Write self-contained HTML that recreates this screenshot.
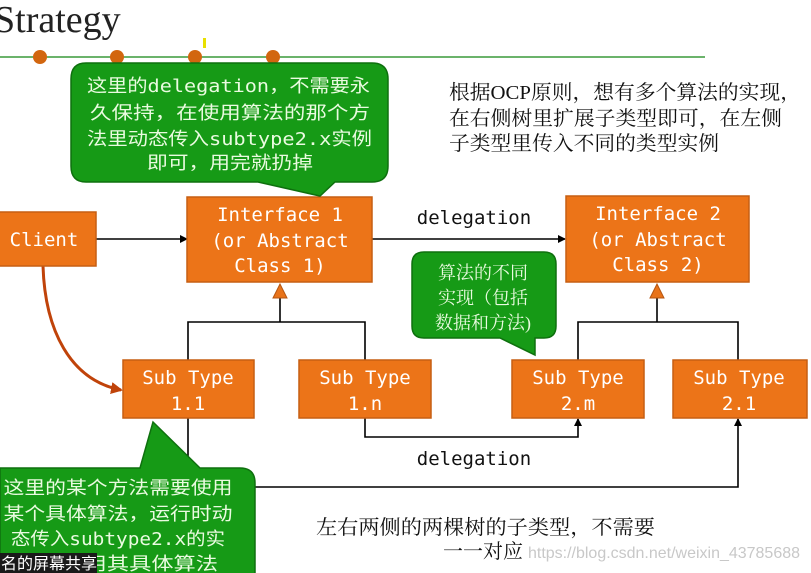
<!DOCTYPE html>
<html><head><meta charset="utf-8"><style>
html,body{margin:0;padding:0;background:#fff;width:811px;height:573px;overflow:hidden}
svg{font-family:"DejaVu Sans Mono","Liberation Mono","Noto Sans CJK SC",monospace}
.serif{font-family:"Liberation Serif","Noto Serif CJK SC",serif}
.sans{font-family:"Noto Sans CJK SC",sans-serif}
.mono{font-family:"DejaVu Sans Mono","Noto Sans CJK SC",monospace}
.lib{font-family:"Liberation Sans",sans-serif}
</style></head><body>
<svg width="811" height="573" viewBox="0 0 811 573" xmlns="http://www.w3.org/2000/svg">
<defs>
<marker id="ah" markerWidth="8" markerHeight="8" refX="7" refY="4" orient="auto" markerUnits="userSpaceOnUse"><path d="M0,0 L8,4 L0,8 z" fill="#000"/></marker>
<marker id="ar" markerWidth="12" markerHeight="12" refX="10" refY="6" orient="auto" markerUnits="userSpaceOnUse"><path d="M0,0 L12,6 L0,12 z" fill="#c0430a"/></marker>
</defs>
<text x="-6" y="32" class="serif" font-size="38" fill="#222">Strategy</text>
<line x1="0" y1="57" x2="705" y2="57" stroke="#3a9a3a" stroke-width="1.5"/>
<rect x="203" y="38" width="3" height="10" fill="#e8e000"/>
<g fill="#d2660f"><circle cx="40" cy="57" r="7"/><circle cx="117" cy="57" r="7"/><circle cx="195" cy="57" r="7"/><circle cx="273" cy="57" r="7"/></g>

<g stroke="#000" stroke-width="1.6" fill="none">
<line x1="96" y1="239" x2="187" y2="239" marker-end="url(#ah)"/>
<line x1="372" y1="239" x2="565" y2="239" marker-end="url(#ah)"/>
<polyline points="188,360 188,322 365,322 365,360"/>
<line x1="280" y1="322" x2="280" y2="298"/>
<polyline points="578,360 578,322 738,322 738,360"/>
<line x1="657" y1="322" x2="657" y2="298"/>
<polyline points="365,418 365,437 578,437 578,419" marker-end="url(#ah)"/>
<polyline points="188,418 188,487 738,487 738,419" marker-end="url(#ah)"/>
</g>
<path d="M273,298 L280,284 L287,298 Z" fill="#e8731a" stroke="#b55510"/>
<path d="M650,298 L657,284 L664,298 Z" fill="#e8731a" stroke="#b55510"/>
<path d="M43,266 C45,330 70,380 121,390" stroke="#c0430a" stroke-width="3" fill="none" marker-end="url(#ar)"/>

<g fill="#ec7418" stroke="#c65e12" stroke-width="1.5">
<rect x="-2" y="212" width="98" height="54"/>
<rect x="187" y="197" width="185" height="85"/>
<rect x="566" y="196" width="183" height="86"/>
<rect x="123" y="360" width="131" height="58"/>
<rect x="299" y="360" width="132" height="58"/>
<rect x="512" y="360" width="132" height="58"/>
<rect x="673" y="360" width="134" height="58"/>
</g>
<g fill="#fff" font-size="19" text-anchor="middle">
<text x="44" y="246">Client</text>
<text x="280" y="221">Interface 1</text>
<text x="280" y="247">(or Abstract</text>
<text x="280" y="272">Class 1)</text>
<text x="658" y="220">Interface 2</text>
<text x="658" y="246">(or Abstract</text>
<text x="658" y="271">Class 2)</text>
<text x="188" y="384">Sub Type</text><text x="188" y="410">1.1</text>
<text x="365" y="384">Sub Type</text><text x="365" y="410">1.n</text>
<text x="578" y="384">Sub Type</text><text x="578" y="410">2.m</text>
<text x="739" y="384">Sub Type</text><text x="739" y="410">2.1</text>
</g>
<g fill="#111" font-size="19" text-anchor="middle">
<text x="474" y="224">delegation</text>
<text x="474" y="465">delegation</text>
</g>

<path d="M86,63 H372 Q388,63 388,79 V166 Q388,182 372,182 H335 L320,196 L258,182 H86 Q71,182 71,166 V79 Q71,63 86,63 Z" fill="#169a16" stroke="#0e700e" stroke-width="1.5"/>
<g fill="#eafbe0" font-size="18" class="mono">
<text x="87" y="92" textLength="283" lengthAdjust="spacingAndGlyphs">这里的delegation，不需要永</text>
<text x="90" y="119" textLength="280" lengthAdjust="spacingAndGlyphs">久保持，在使用算法的那个方</text>
<text x="87" y="145" textLength="285" lengthAdjust="spacingAndGlyphs">法里动态传入subtype2.x实例</text>
<text x="147" y="169" textLength="166" lengthAdjust="spacingAndGlyphs">即可，用完就扔掉</text>
</g>

<path d="M424,252 H544 Q556,252 556,264 V326 Q556,338 544,338 H535 L535,355 L500,338 H424 Q412,338 412,326 V264 Q412,252 424,252 Z" fill="#169a16" stroke="#0e700e" stroke-width="1.5"/>
<g fill="#eafbe0" font-size="18" text-anchor="middle" class="serif">
<text x="483" y="279">算法的不同</text>
<text x="483" y="304">实现（包括</text>
<text x="483" y="329">数据和方法)</text>
</g>

<path d="M0,468 H140 L153,422 L200,468 H240 Q255,468 255,483 V580 H0 Z" fill="#169a16" stroke="#0e700e" stroke-width="1.5"/>
<g fill="#eafbe0" font-size="18" text-anchor="middle" class="mono">
<text x="118" y="494" textLength="229" lengthAdjust="spacingAndGlyphs">这里的某个方法需要使用</text>
<text x="118" y="520" textLength="229" lengthAdjust="spacingAndGlyphs">某个具体算法，运行时动</text>
<text x="118" y="545" textLength="214" lengthAdjust="spacingAndGlyphs">态传入subtype2.x的实</text>
<text x="118" y="570" textLength="200" lengthAdjust="spacingAndGlyphs">例，调用其具体算法</text>
</g>
<rect x="0" y="553" width="97" height="20" fill="#1a1a1a"/>
<text x="1" y="569" fill="#fff" font-size="16" class="sans">名的屏幕共享</text>

<g fill="#111" font-size="20" class="serif">
<text x="449" y="99" textLength="352" lengthAdjust="spacingAndGlyphs">根据OCP原则，想有多个算法的实现，</text>
<text x="449" y="125" textLength="333" lengthAdjust="spacingAndGlyphs">在右侧树里扩展子类型即可，在左侧</text>
<text x="449" y="150" textLength="270" lengthAdjust="spacingAndGlyphs">子类型里传入不同的类型实例</text>
<text x="316" y="534" textLength="339" lengthAdjust="spacingAndGlyphs">左右两侧的两棵树的子类型，不需要</text>
<text x="443" y="558">一一对应</text>
</g>
<text x="528" y="558" fill="#c8c8c8" font-size="16" class="lib" textLength="272" lengthAdjust="spacingAndGlyphs">https://blog.csdn.net/weixin_43785688</text>
</svg>
</body></html>
